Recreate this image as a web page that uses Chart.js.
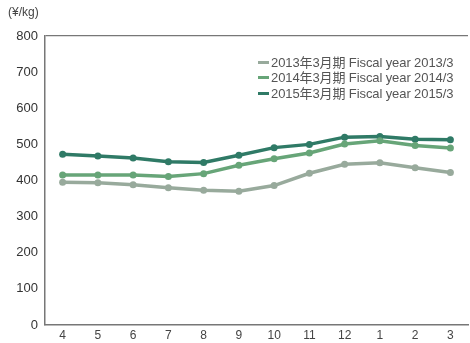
<!DOCTYPE html>
<html>
<head>
<meta charset="utf-8">
<script src="https://cdn.jsdelivr.net/npm/chart.js@4/dist/chart.umd.min.js"></script>
<style>
  body { margin: 0; background: #fff; }
  #wrap { position: relative; width: 470px; height: 343px; font-family: "Liberation Sans", "Noto Sans CJK JP", sans-serif; }
  #c { display: block; }
  #unit { position: absolute; left: 8px; top: 5px; font-size: 12px; color: #444; }
  #legend { position: absolute; left: 258px; top: 55px; font-size: 13px; color: #555; line-height: 15.3px; letter-spacing: -0.1px; }
  #legend .sw { display: inline-block; width: 11px; height: 3px; margin-right: 2px; vertical-align: middle; position: relative; top: -1px; }
</style>
</head>
<body>
<div id="wrap">
  <canvas id="c" width="470" height="343"></canvas>
  <div id="unit">(¥/kg)</div>
  <div id="legend"></div>
</div>
<script>
// 月（4月〜翌3月）
const months = ['4', '5', '6', '7', '8', '9', '10', '11', '12', '1', '2', '3'];

const fy2013 = [395, 394, 388, 380, 373, 370, 386, 420, 445, 449, 435, 422];
const fy2014 = [415, 415, 415, 411, 419, 442, 460, 476, 501, 510, 497, 490];
const fy2015 = [473, 468, 462, 452, 450, 470, 491, 500, 520, 522, 514, 513];

const seriesLabels = [
  '2013年3月期 Fiscal year 2013/3',
  '2014年3月期 Fiscal year 2014/3',
  '2015年3月期 Fiscal year 2015/3',
];
const seriesColors = ['#98aa9c', '#67a578', '#2f7a66'];

const yTicks = [0, 100, 200, 300, 400, 500, 600, 700, 800];

const makeDataset = (label, data, color) => ({
  label, data,
  borderColor: color,
  backgroundColor: color,
  pointBackgroundColor: color,
  borderWidth: 3.5,
  pointRadius: 3.5,
  pointBorderWidth: 0,
  tension: 0,
});

// HTML凡例
document.getElementById('legend').innerHTML = seriesLabels
  .map((l, i) => `<div><span class="sw" style="background:${seriesColors[i]}"></span>${l}</div>`)
  .join('');

new Chart(document.getElementById('c'), {
  type: 'line',
  data: {
    labels: months,
    datasets: [
      makeDataset(seriesLabels[0], fy2013, seriesColors[0]),
      makeDataset(seriesLabels[1], fy2014, seriesColors[1]),
      makeDataset(seriesLabels[2], fy2015, seriesColors[2]),
    ],
  },
  options: {
    responsive: false,
    animation: false,
    layout: { autoPadding: false, padding: { top: 36, right: 2, left: 0, bottom: 0 } },
    plugins: { legend: { display: false }, tooltip: { enabled: false } },
    scales: {
      x: {
        offset: true,
        grid: { display: false, drawTicks: false },
        border: { display: true, color: '#777', width: 1.5 },
        ticks: { color: '#444', font: { size: 12, family: 'Liberation Sans' }, padding: 3 },
        afterFit: s => { s.height = 18; s.paddingLeft = 0; s.paddingRight = 0; },
      },
      y: {
        min: 0, max: 800,
        afterBuildTicks: s => { s.ticks = yTicks.map(v => ({ value: v })); },
        grid: { color: ctx => ctx.tick && ctx.tick.value === 800 ? '#777' : 'transparent', drawTicks: false, lineWidth: 1.2 },
        border: { display: true, color: '#777', width: 1.5 },
        ticks: { color: '#333', font: { size: 13, family: 'Liberation Sans' }, padding: 7 },
        afterFit: s => { s.width = 45; s.paddingTop = 0; s.paddingBottom = 0; },
      },
    },
  },
});
</script>
</body>
</html>
